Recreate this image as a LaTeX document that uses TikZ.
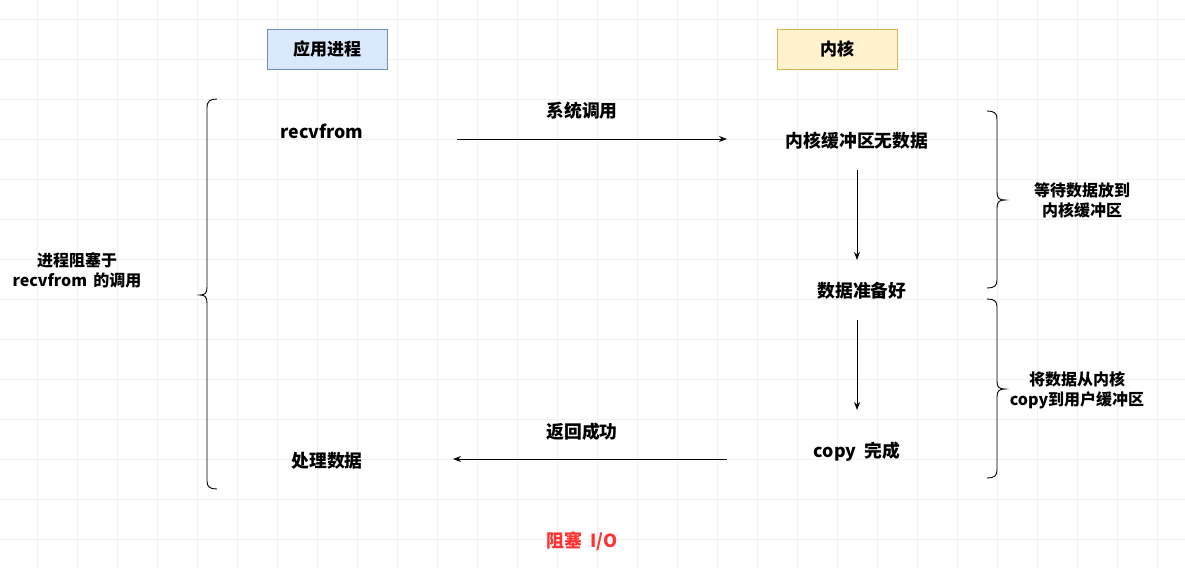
\documentclass[tikz,border=0pt]{standalone}
\usepackage{fontspec}
\setmainfont{Noto Sans CJK SC}
\usetikzlibrary{arrows.meta}
\definecolor{gridc}{HTML}{F1F1F1}
\definecolor{bluefill}{HTML}{DAE8FC}
\definecolor{blueline}{HTML}{6C8EBF}
\definecolor{yelfill}{HTML}{FFF2CC}
\definecolor{yelline}{HTML}{D6B656}
\definecolor{redtxt}{HTML}{FF3333}
\tikzset{
  hdr/.style={minimum width=120pt,minimum height=40pt,inner sep=0pt,font=\fontsize{17}{20}\selectfont\bfseries},
  lbl/.style={inner sep=0pt,font=\fontsize{17.8}{21}\selectfont\bfseries},
  side/.style={inner sep=0pt,align=center,font=\fontsize{16}{20}\selectfont\bfseries},
  arr/.style={draw=black,line width=0.9pt,-{Stealth[length=8pt,width=6pt]}},
  brace/.style={draw=black,line width=0.9pt}
}
\begin{document}
\begin{tikzpicture}[x=1pt,y=-1pt]
\useasboundingbox (0,0) rectangle (1185,568);
\fill[white] (0,0) rectangle (1185,568);
\foreach \i in {0,...,29} {\draw[gridc,line width=0.6pt] (37+40*\i,0) -- (37+40*\i,568);}
\foreach \j in {0,...,14} {\draw[gridc,line width=0.6pt] (0,19+40*\j) -- (1185,19+40*\j);}

\node[hdr,draw=blueline,fill=bluefill] (app) at (327,49) {应用进程};
\node[hdr,draw=yelline,fill=yelfill] (kern) at (837,49) {内核};

\node[lbl] (recv) at (322,131) {recvfrom};
\node[lbl] (syscall) at (582,111) {系统调用};
\node[lbl] (nodata) at (857,141) {内核缓冲区无数据};
\node[lbl] (ready) at (862,291) {数据准备好};
\node[lbl] (done) at (857,452) {copy\ \ 完成};
\node[lbl] (ret) at (582,432) {返回成功};
\node[lbl] (proc) at (327,461) {处理数据};

\node[side] (blk) at (77,270) {进程阻塞于\\recvfrom \,的调用};
\node[side] (wait) at (1082,200) {等待数据放到\\内核缓冲区};
\node[side] (copy) at (1077,390) {将数据从内核\\copy到用户缓冲区};

\node[inner sep=0pt,text=redtxt,font=\fontsize{18}{21}\selectfont\bfseries] (title) at (582,541) {阻塞\ \ I/O};

\coordinate (a1s) at (457,139);
\coordinate (a1e) at (727,139);
\coordinate (a2s) at (857,170);
\coordinate (a2e) at (857,260);
\coordinate (a3s) at (857,320);
\coordinate (a3e) at (857,410);
\coordinate (a4s) at (727,459);
\coordinate (a4e) at (453,459);
\draw[arr] (a1s) -- (a1e);
\draw[arr] (a2s) -- (a2e);
\draw[arr] (a3s) -- (a3e);
\draw[arr] (a4s) -- (a4e);

% left brace
\draw[brace] (217,99) .. controls (210,99) and (207,101) .. (207,108) -- (207,287)
  .. controls (207,293) and (205,295) .. (200,295)
  .. controls (205,295) and (207,297) .. (207,303) -- (207,481)
  .. controls (207,487) and (210,489) .. (217,489);
% right brace 1
\draw[brace] (987,111) .. controls (994,111) and (997,113) .. (997,119) -- (997,192)
  .. controls (997,198) and (999,200) .. (1005,200)
  .. controls (999,200) and (997,202) .. (997,208) -- (997,280)
  .. controls (997,286) and (994,288) .. (987,288);
% right brace 2
\draw[brace] (987,299) .. controls (994,299) and (997,301) .. (997,307) -- (997,381)
  .. controls (997,387) and (999,389) .. (1005,389)
  .. controls (999,389) and (997,391) .. (997,397) -- (997,470)
  .. controls (997,476) and (994,478) .. (987,478);
\end{tikzpicture}
\end{document}
